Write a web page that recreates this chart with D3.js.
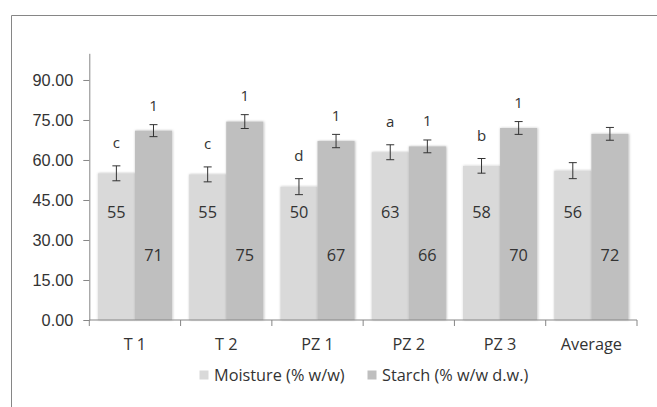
<!DOCTYPE html>
<html>
<head>
<meta charset="utf-8">
<script src="https://cdn.jsdelivr.net/npm/d3@7"></script>
<style>
  body { margin: 0; background: #fff; }
  svg { display: block; font-family: "Open Sans", "Liberation Sans", sans-serif; }
</style>
</head>
<body>
<div id="chart"></div>
<script>
/* data */
const categories = ['T 1', 'T 2', 'PZ 1', 'PZ 2', 'PZ 3', 'Average']
const seriesNames = ['Moisture (% w/w)', 'Starch (% w/w d.w.)']
const moisture = [55.0, 54.6, 50.0, 62.9, 57.8, 56.0]
const starch = [71.0, 74.4, 67.1, 65.1, 72.0, 69.8]
const moistureErr = [2.8, 2.8, 3.0, 2.8, 2.75, 3.0]
const starchErr = [2.25, 2.6, 2.5, 2.4, 2.4, 2.4]
const moistureLabels = ['55', '55', '50', '63', '58', '56']
const starchLabels = ['71', '75', '67', '66', '70', '72']
const moistureLetters = ['c', 'c', 'd', 'a', 'b', '']
const starchLetters = ['1', '1', '1', '1', '1', '']
const yTicks = [0, 15, 30, 45, 60, 75, 90]

const W = 657, H = 407
const margin = { top: 53.3, left: 89.3, right: 20, bottom: 87 }
const colors = ['#d9d9d9', '#bfbfbf']
const ink = '#333333'
const axisGrey = '#868686'
const fs = 16.3

const svg = d3.select('#chart').append('svg')
  .attr('width', W)
  .attr('height', H)

// shadow for bars
svg.append('defs').append('filter')
  .attr('id', 'shadow')
  .attr('x', '-20%').attr('y', '-5%').attr('width', '140%').attr('height', '110%')
  .append('feDropShadow')
  .attr('dx', 0.5).attr('dy', 0)
  .attr('stdDeviation', 1.3)
  .attr('flood-color', '#000')
  .attr('flood-opacity', 0.3)

// outer frame (cropped on right and bottom)
svg.append('path')
  .attr('d', `M11.5,${H + 2} V15.5 H${W + 2}`)
  .attr('fill', 'none')
  .attr('stroke', axisGrey)
  .attr('stroke-width', 1)

const rows = categories.map((c, i) => ({
  cat: c,
  values: [
    { key: seriesNames[0], v: moisture[i], err: moistureErr[i], label: moistureLabels[i], letter: moistureLetters[i], labelAt: 40.5, off: 23 },
    { key: seriesNames[1], v: starch[i], err: starchErr[i], label: starchLabels[i], letter: starchLetters[i], labelAt: 24.4, off: 19 }
  ]
}))

const x0 = d3.scaleBand()
  .domain(categories)
  .range([margin.left, 637])

const x1 = d3.scaleBand()
  .domain(seriesNames)
  .range([0, x0.bandwidth()])
  .paddingOuter(0.23)

const y = d3.scaleLinear()
  .domain([0, 100])
  .range([320, margin.top])

const color = d3.scaleOrdinal().domain(seriesNames).range(colors)

/* bars */
const $groups = svg.append('g').selectAll('g')
  .data(rows)
  .join('g')
  .attr('transform', d => `translate(${x0(d.cat)},0)`)

$groups.selectAll('rect')
  .data(d => d.values)
  .join('rect')
  .attr('x', d => x1(d.key))
  .attr('y', d => y(d.v))
  .attr('width', x1.bandwidth())
  .attr('height', d => y(0) - y(d.v))
  .attr('fill', d => color(d.key))
  .attr('filter', 'url(#shadow)')

// error bars
const $err = $groups.selectAll('g.err')
  .data(d => d.values)
  .join('g')
  .attr('class', 'err')
  .attr('transform', d => `translate(${x1(d.key) + x1.bandwidth() / 2},0)`)
  .attr('stroke', ink)
  .attr('stroke-width', 1)

$err.append('line')
  .attr('x1', 0).attr('x2', 0)
  .attr('y1', d => y(d.v + d.err)).attr('y2', d => y(d.v - d.err))
$err.append('line')
  .attr('x1', -4).attr('x2', 4)
  .attr('y1', d => y(d.v + d.err)).attr('y2', d => y(d.v + d.err))
$err.append('line')
  .attr('x1', -4).attr('x2', 4)
  .attr('y1', d => y(d.v - d.err)).attr('y2', d => y(d.v - d.err))

// significance letters
$groups.selectAll('text.letter')
  .data(d => d.values)
  .join('text')
  .attr('class', 'letter')
  .attr('x', d => x1(d.key) + x1.bandwidth() / 2)
  .attr('y', d => y(d.v + d.err) - d.off)
  .attr('dy', '0.35em')
  .attr('text-anchor', 'middle')
  .attr('font-size', 15)
  .attr('fill', ink)
  .text(d => d.letter)

// value labels inside bars
$groups.selectAll('text.val')
  .data(d => d.values)
  .join('text')
  .attr('class', 'val')
  .attr('x', d => x1(d.key) + x1.bandwidth() / 2)
  .attr('y', d => y(d.labelAt))
  .attr('dy', '0.35em')
  .attr('text-anchor', 'middle')
  .attr('font-size', fs)
  .attr('fill', ink)
  .text(d => d.label)

/* axes */
const yAxis = svg.append('g')
  .attr('transform', `translate(${margin.left},0)`)
  .call(d3.axisLeft(y).tickValues(yTicks).tickFormat(d3.format('.2f')).tickSize(6).tickPadding(10).tickSizeOuter(0))
yAxis.select('.domain').attr('stroke', axisGrey)
yAxis.selectAll('.tick line').attr('stroke', axisGrey)
yAxis.selectAll('.tick text').attr('fill', ink).attr('font-size', fs).attr('font-family', null)

// x axis: line with ticks at category boundaries
const xAxis = svg.append('g')
xAxis.append('line')
  .attr('x1', x0.range()[0]).attr('x2', x0.range()[1])
  .attr('y1', y(0)).attr('y2', y(0))
  .attr('stroke', axisGrey)
const edges = categories.map(c => x0(c)).concat([x0.range()[1]])
xAxis.selectAll('line.tk')
  .data(edges)
  .join('line')
  .attr('class', 'tk')
  .attr('x1', d => d).attr('x2', d => d)
  .attr('y1', y(0)).attr('y2', y(0) + 6)
  .attr('stroke', axisGrey)
xAxis.selectAll('text')
  .data(categories)
  .join('text')
  .attr('x', d => x0(d) + x0.bandwidth() / 2)
  .attr('y', 344.3)
  .attr('dy', '0.35em')
  .attr('text-anchor', 'middle')
  .attr('font-size', fs)
  .attr('fill', ink)
  .text(d => d)

/* legend */
const legendX = [199.5, 367.5]
const $legend = svg.append('g').selectAll('g')
  .data(seriesNames)
  .join('g')
  .attr('transform', (d, i) => `translate(${legendX[i]},370.5)`)
$legend.append('rect')
  .attr('width', 9).attr('height', 9)
  .attr('fill', d => color(d))
$legend.append('text')
  .attr('x', 14.5)
  .attr('y', 5)
  .attr('dy', '0.35em')
  .attr('font-size', fs)
  .attr('fill', ink)
  .text(d => d)
</script>
</body>
</html>
